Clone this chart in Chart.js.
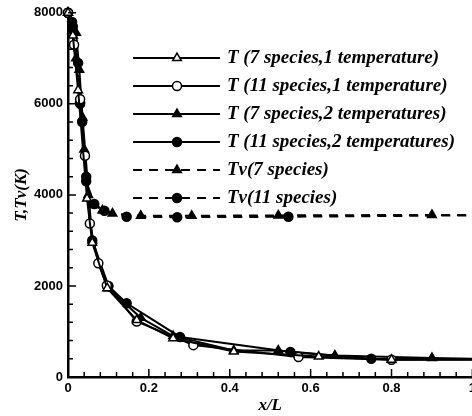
<!DOCTYPE html>
<html>
<head>
<meta charset="utf-8">
<script src="https://cdn.jsdelivr.net/npm/chart.js@4/dist/chart.umd.min.js"></script>
<style>
  html, body { margin: 0; padding: 0; background: #fff; overflow: hidden; }
  #wrap { width: 480px; height: 416px; }
</style>
</head>
<body>
<div id="wrap"><canvas id="c" width="480" height="416"></canvas></div>
<script>
/* T / Tv along x/L — six curves, Tecplot-style black & white */

const seriesLabels = [
  'T (7 species,1 temperature)',
  'T (11 species,1 temperature)',
  'T (7 species,2 temperatures)',
  'T (11 species,2 temperatures)',
  'Tv(7 species)',
  'Tv(11 species)'
];

// x/L positions and temperatures (K)
const t7s1tX = [0, 0.012, 0.025, 0.047, 0.06, 0.097, 0.17, 0.26, 0.41, 0.62, 0.8, 1.0];
const t7s1tY = [8000, 7500, 6300, 3920, 2950, 1950, 1250, 850, 560, 450, 380, 380];

const t11s1tX = [0, 0.015, 0.03, 0.042, 0.054, 0.075, 0.096, 0.17, 0.31, 0.57, 0.8, 1.0];
const t11s1tY = [8000, 7300, 6100, 4860, 3370, 2500, 2010, 1220, 700, 440, 380, 390];

const t7s2tX = [0, 0.02, 0.028, 0.036, 0.06, 0.1, 0.18, 0.26, 0.41, 0.52, 0.66, 0.9, 1.0];
const t7s2tY = [8000, 7560, 6750, 5700, 3000, 1950, 1300, 900, 580, 580, 470, 420, 400];

const t11s2tX = [0, 0.01, 0.03, 0.045, 0.06, 0.1, 0.145, 0.277, 0.55, 0.75, 1.0];
const t11s2tY = [8000, 7800, 6000, 4400, 3000, 2000, 1620, 880, 550, 400, 390];

const tv7X = [0, 0.01, 0.02, 0.03, 0.04, 0.05, 0.065, 0.085, 0.11, 0.18, 0.306, 0.52, 0.9, 1.0];
const tv7Y = [8000, 7600, 7000, 6100, 5000, 4000, 3780, 3660, 3590, 3540, 3540, 3550, 3560, 3560];

const tv11X = [0, 0.012, 0.025, 0.035, 0.045, 0.065, 0.09, 0.145, 0.27, 0.545, 1.0];
const tv11Y = [8000, 7700, 6900, 5600, 4300, 3800, 3650, 3520, 3510, 3520, 3550];

const xTickLabels = ['0', '0.2', '0.4', '0.6', '0.8', '1'];
const yTickLabels = ['0', '2000', '4000', '6000', '8000'];

const toPts = (xs, ys) => xs.map((x, i) => ({ x, y: ys[i] }));

function series(label, xs, ys, style, filled, dashed) {
  return {
    label,
    data: toPts(xs, ys),
    borderColor: '#000',
    borderWidth: 2,
    borderDash: dashed ? [9, 7] : [],
    pointStyle: style,
    pointRadius: (ctx) => (ctx.raw && ctx.raw.x >= 0.99 ? 0 : (style === 'triangle' ? 5 : 4.5)),
    pointBorderWidth: 1.5,
    pointBorderColor: '#000',
    pointBackgroundColor: filled ? '#000' : '#fff',
    fill: false,
    tension: 0,
    clip: false
  };
}

const datasets = [
  series(seriesLabels[0], t7s1tX, t7s1tY, 'triangle', false, false),
  series(seriesLabels[1], t11s1tX, t11s1tY, 'circle', false, false),
  series(seriesLabels[2], t7s2tX, t7s2tY, 'triangle', true, false),
  series(seriesLabels[3], t11s2tX, t11s2tY, 'circle', true, false),
  series(seriesLabels[4], tv7X, tv7Y, 'triangle', true, true),
  series(seriesLabels[5], tv11X, tv11Y, 'circle', true, true)
];

// inward minor/major tick marks
const innerTicks = {
  id: 'innerTicks',
  afterDraw(chart) {
    const { ctx, chartArea: a, scales: { x, y } } = chart;
    ctx.save();
    ctx.strokeStyle = '#000';
    ctx.lineWidth = 1.5;
    ctx.beginPath();
    for (let i = 0; i <= 25; i++) {
      const px = x.getPixelForValue(i * 0.04);
      const len = i % 5 === 0 ? 8 : 5;
      ctx.moveTo(px, a.bottom);
      ctx.lineTo(px, a.bottom - len);
    }
    for (let i = 0; i <= 20; i++) {
      const py = y.getPixelForValue(i * 400);
      const len = i % 5 === 0 ? 8 : 5;
      ctx.moveTo(a.left, py);
      ctx.lineTo(a.left + len, py);
    }
    ctx.stroke();
    ctx.restore();
  }
};

// legend drawn inside the plot
const innerLegend = {
  id: 'innerLegend',
  afterDraw(chart) {
    const ctx = chart.ctx;
    ctx.save();
    chart.data.datasets.forEach((ds, i) => {
      const yy = 58 + i * 28;
      ctx.strokeStyle = '#000';
      ctx.lineWidth = 2;
      ctx.setLineDash(ds.borderDash);
      ctx.beginPath();
      ctx.moveTo(133, yy);
      ctx.lineTo(220, yy);
      ctx.stroke();
      ctx.setLineDash([]);
      ctx.fillStyle = ds.pointBackgroundColor;
      ctx.strokeStyle = '#000';
      ctx.lineWidth = 1.5;
      Chart.helpers.drawPoint(ctx, {
        pointStyle: ds.pointStyle,
        radius: ds.pointStyle === 'triangle' ? 5 : 4.5,
        rotation: 0,
        borderWidth: 1.5
      }, 177, yy);
      ctx.fillStyle = '#000';
      ctx.font = 'italic bold 19px "Liberation Serif", serif';
      ctx.textBaseline = 'middle';
      ctx.fillText(ds.label, 227, yy);
    });
    ctx.restore();
  }
};

new Chart(document.getElementById('c'), {
  type: 'line',
  data: { datasets },
  plugins: [innerTicks, innerLegend],
  options: {
    responsive: false,
    animation: false,
    layout: { padding: { top: 12, right: 7, left: 0, bottom: 0 } },
    plugins: { legend: { display: false }, tooltip: { enabled: false } },
    scales: {
      x: {
        type: 'linear',
        min: 0,
        max: 1,
        afterFit: (s) => { s.height = 39; },
        border: { display: true, color: '#000', width: 2.5 },
        grid: { display: false, drawTicks: false },
        ticks: {
          stepSize: 0.2,
          padding: 4,
          color: '#000',
          maxRotation: 0,
          font: { family: '"Liberation Sans", Arial, sans-serif', weight: 'bold', size: 13 },
          callback: (v, i) => xTickLabels[i]
        },
        title: {
          display: true,
          text: 'x/L',
          color: '#000',
          padding: { top: 0, bottom: 0 },
          font: { family: '"Liberation Serif", serif', style: 'italic', weight: 'bold', size: 17 }
        }
      },
      y: {
        type: 'linear',
        min: 0,
        max: 8000,
        afterFit: (s) => { s.width = 68; },
        border: { display: true, color: '#000', width: 2.5 },
        grid: { display: false, drawTicks: false },
        ticks: {
          stepSize: 2000,
          padding: 5,
          color: '#000',
          font: { family: '"Liberation Sans", Arial, sans-serif', weight: 'bold', size: 13 },
          callback: (v, i) => yTickLabels[i]
        },
        title: {
          display: true,
          text: 'T,Tv(K)',
          color: '#000',
          padding: { top: 11, bottom: 0 },
          font: { family: '"Liberation Serif", serif', style: 'italic', weight: 'bold', size: 17 }
        }
      }
    }
  }
});
</script>
</body>
</html>
